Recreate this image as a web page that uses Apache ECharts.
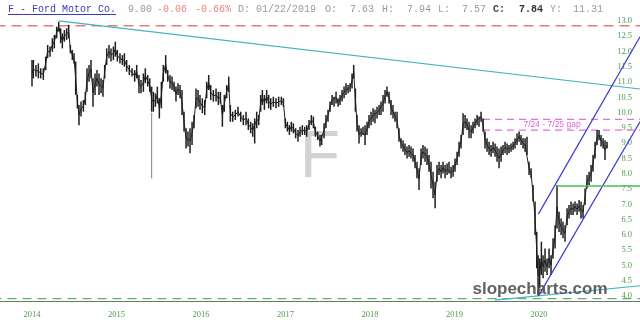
<!DOCTYPE html>
<html><head><meta charset="utf-8">
<script src="https://cdn.jsdelivr.net/npm/echarts@6/dist/echarts.min.js"></script>
<style>html,body{margin:0;padding:0;background:#fff}#c{width:640px;height:331px}</style>
</head><body><div id="c"></div>
<script>
// ---- price data (decimal year, low, high) ----
const dates=[
2014.000,2014.016,2014.047,2014.075,2014.103,2014.134,2014.162,2014.185,2014.213,2014.241,
2014.264,2014.292,2014.316,2014.339,2014.359,2014.383,2014.410,2014.434,2014.454,2014.477,
2014.497,2014.517,2014.537,2014.556,2014.580,2014.608,2014.631,2014.651,2014.675,2014.698,
2014.722,2014.746,2014.769,2014.793,2014.817,2014.840,2014.860,2014.884,2014.911,2014.935,
2014.963,2014.986,2015.010,2015.041,2015.069,2015.093,2015.120,2015.152,2015.184,2015.215,
2015.239,2015.266,2015.290,2015.318,2015.341,2015.369,2015.393,2015.416,2015.436,2015.460,
2015.483,2015.507,2015.531,2015.554,2015.582,2015.606,2015.633,2015.657,2015.681,2015.704,
2015.728,2015.752,2015.775,2015.799,2015.823,2015.846,2015.870,2015.894,2015.917,2015.941,
2015.965,2015.988,2016.016,2016.044,2016.067,2016.091,2016.115,2016.146,2016.178,2016.205,
2016.229,2016.253,2016.276,2016.304,2016.328,2016.347,2016.375,2016.406,2016.438,2016.470,
2016.501,2016.533,2016.560,2016.588,2016.612,2016.635,2016.659,2016.683,2016.706,2016.726,
2016.750,2016.777,2016.801,2016.825,2016.856,2016.888,2016.919,2016.951,2016.975,2016.998,
2017.022,2017.046,2017.069,2017.093,2017.120,2017.148,2017.172,2017.199,2017.227,2017.251,
2017.278,2017.306,2017.330,2017.353,2017.381,2017.408,
2017.428,2017.456,2017.479,2017.503,2017.527,2017.551,2017.574,2017.598,2017.622,2017.645,
2017.669,2017.693,2017.716,2017.740,2017.764,2017.787,2017.807,2017.827,2017.846,2017.870,
2017.894,2017.917,2017.941,2017.965,2017.988,2018.012,2018.036,2018.059,2018.083,2018.107,
2018.130,2018.154,2018.178,2018.201,2018.225,2018.249,2018.272,2018.296,2018.320,2018.343,
2018.367,2018.391,2018.414,2018.438,2018.462,2018.485,2018.509,2018.533,2018.556,2018.580,
2018.604,2018.627,2018.651,2018.675,2018.698,2018.722,2018.746,2018.770,2018.793,2018.817,
2018.841,2018.864,2018.888,2018.912,2018.935,2018.959,2018.983,2019.006,2019.030,2019.054,
2019.077,2019.101,2019.125,2019.148,2019.172,2019.196,2019.219,2019.243,2019.267,2019.290,
2019.314,2019.338,2019.361,2019.385,2019.409,2019.432,2019.456,2019.480,2019.503,2019.527,
2019.551,2019.574,2019.598,2019.622,2019.645,2019.669,2019.693,2019.716,2019.740,2019.764,
2019.787,2019.811,2019.835,2019.858,2019.882,2019.906,2019.929,2019.953,2019.973,2019.989,
2020.008,2020.028,2020.048,2020.071,2020.095,2020.119,2020.142,2020.166,2020.190,2020.213,
2020.237,2020.261,2020.284,2020.308,2020.332,2020.355,2020.379,2020.403,2020.426,2020.450,
2020.474,2020.497,2020.521,2020.545,2020.568,2020.592,2020.616,2020.639,2020.663,2020.687,
2020.710,2020.734,2020.758,2020.781,2020.805];
const highs=[
11.72,11.72,11.56,11.61,11.45,11.45,11.83,12.21,12.16,12.43,
12.54,12.81,12.97,12.76,12.59,12.70,12.76,12.87,12.21,12.05,
11.94,11.67,10.58,10.25,10.36,10.41,10.68,11.45,11.56,11.72,
11.12,11.28,11.39,11.28,11.12,11.07,11.56,12.10,12.21,12.10,
12.16,12.32,12.05,11.94,11.88,11.94,11.72,11.56,11.45,11.39,
11.56,11.23,11.07,11.28,11.45,11.23,11.12,10.85,10.68,10.63,
10.85,10.47,11.01,11.56,11.88,11.39,11.23,11.18,11.01,10.85,
10.96,10.90,10.74,10.03,9.49,9.38,9.49,9.70,9.92,10.79,
10.74,10.58,10.47,10.41,11.01,11.23,10.90,10.74,10.79,10.68,
10.68,10.25,10.58,10.90,11.18,10.25,10.03,10.09,10.19,10.03,
9.92,10.03,9.81,9.70,9.65,9.81,10.03,9.92,10.58,10.74,
10.58,10.74,10.58,10.47,10.52,10.47,10.52,10.52,10.47,9.81,
9.70,9.59,9.70,9.65,9.49,9.43,9.54,9.59,9.54,9.59,
9.76,9.92,9.87,9.54,9.38,9.27,
9.27,9.65,9.92,10.09,10.36,10.58,10.52,10.68,10.47,10.58,
10.74,10.85,10.96,10.90,10.96,11.28,11.56,10.79,9.92,9.59,
9.49,9.54,9.59,9.70,9.92,10.03,10.14,10.09,10.19,10.25,
10.36,10.58,10.74,10.85,10.68,10.41,10.25,10.03,10.03,9.49,
9.16,9.10,8.99,8.89,8.94,8.89,8.83,8.61,8.39,8.18,
8.83,8.94,8.89,8.83,8.61,8.39,8.07,7.74,8.29,8.39,
8.29,8.39,8.29,8.34,8.39,8.23,8.29,8.50,8.72,9.05,
9.27,9.98,9.92,9.81,9.70,9.59,9.70,9.81,9.92,9.87,
10.03,9.81,9.38,9.16,9.05,8.94,9.05,8.99,8.89,8.83,
8.89,8.94,9.05,8.99,8.94,8.99,9.05,9.16,9.32,9.38,
9.27,9.16,9.16,9.21,8.39,8.18,7.63,7.09,6.10,5.34,
5.23,5.78,5.34,5.56,5.23,5.56,5.34,5.89,6.32,7.63,
6.76,6.54,6.43,6.32,6.87,6.98,7.09,7.03,7.09,7.03,
7.14,7.09,6.98,7.52,7.96,8.07,8.29,8.61,9.05,9.43,
9.43,9.27,9.16,9.10,9.05];
const lows=[
10.85,11.12,11.18,11.12,11.12,11.07,11.39,11.78,11.83,11.99,
12.10,12.43,12.65,12.27,12.10,12.32,12.38,12.43,11.94,11.72,
11.61,10.58,10.14,9.59,9.87,10.03,10.25,10.68,11.01,11.12,
10.19,10.58,10.85,10.58,10.63,10.52,11.12,11.56,11.78,11.67,
11.72,11.83,11.67,11.61,11.56,11.50,11.34,11.23,11.18,11.01,
11.12,10.63,10.63,10.68,10.96,10.85,10.68,10.03,10.03,10.19,
10.30,9.81,10.14,11.01,11.28,11.01,10.79,10.74,10.68,10.36,
10.58,10.47,9.92,9.38,8.83,8.89,8.67,8.94,9.49,10.14,
10.19,10.09,9.98,9.92,10.47,10.74,10.41,10.36,10.36,10.25,
10.30,9.54,10.03,10.47,10.68,9.70,9.70,9.76,9.87,9.70,
9.59,9.59,9.43,9.32,9.21,8.99,9.49,9.59,10.03,10.25,
10.09,10.30,10.14,10.09,10.19,10.14,10.19,10.25,10.19,9.49,
9.38,9.27,9.38,9.32,9.16,9.05,9.21,9.27,9.27,9.21,
9.43,9.59,9.49,9.21,9.10,8.89,
8.94,9.16,9.49,9.70,10.03,10.25,10.19,10.30,10.19,10.25,
10.36,10.47,10.58,10.63,10.68,10.79,11.12,10.03,9.38,8.99,
9.21,9.27,8.94,9.27,9.49,9.59,9.70,9.65,9.81,9.92,
9.92,10.03,10.30,10.52,10.30,9.92,9.81,9.70,9.49,9.05,
8.83,8.72,8.61,8.50,8.56,8.50,8.39,8.18,7.85,7.47,
8.29,8.50,8.39,8.29,8.07,7.52,7.20,6.87,7.74,7.96,
7.85,8.01,7.85,7.96,8.01,7.85,7.90,8.07,8.29,8.56,
8.83,9.27,9.49,9.43,9.16,9.16,9.32,9.49,9.59,9.54,
9.70,9.38,8.83,8.72,8.61,8.56,8.67,8.56,8.39,8.18,
8.39,8.61,8.67,8.61,8.67,8.72,8.78,8.83,8.94,9.05,
8.94,8.83,8.72,8.61,7.96,7.85,7.09,6.00,4.91,4.00,
4.25,4.69,4.58,4.80,4.69,4.91,4.69,5.23,5.56,6.21,
6.10,6.00,5.89,5.78,6.32,6.54,6.65,6.65,6.76,6.65,
6.76,6.54,6.54,6.98,7.52,7.63,7.74,8.07,8.50,8.94,
9.10,8.89,8.83,8.45,8.83];
// single bad print (flash wick)
const wickDates=[2015.416];
const wickLows=[7.85];
const wickHighs=[10.0];

// ---- axes ----
const yearLabels=['2014','2015','2016','2017','2018','2019','2020'];
const xMin=2013, xMax=2021.195, yMin=3.84, yMax=13.29;

// ---- annotations (values) ----
const redLevel=12.84;
const greenDashLevel=3.92;
const gapLevels=[9.78,9.43];
const gapStart=2019.337;
const gapText='7/24 - 7/25 gap';
const gapTextAt=[2020.154,9.60];
const breakoutLevel=7.60, breakoutStart=2020.209;
const downTrend=[[2014.316,13.00],[2021.195,10.77]];
const riseTrend=[[2019.479,3.87],[2021.195,4.34]];
const channelUpper=[[2019.992,6.68],[2021.195,12.48]];
const channelLower=[[2019.992,4.00],[2021.195,9.70]];

// ---- header ----
const header=[
 {t:'F - Ford Motor Co.',x:8,c:'#3b3bb5',w:'normal'},
 {t:'9.00',x:128,c:'#9a9a9a',w:'normal'},
 {t:'-0.06',x:157,c:'#ef8080',w:'normal'},
 {t:'-0.66%',x:195,c:'#ef8080',w:'normal'},
 {t:'D: 01/22/2019',x:238,c:'#9a9a9a',w:'normal'},
 {t:'O:',x:325,c:'#9a9a9a',w:'normal'},
 {t:'7.63',x:350,c:'#9a9a9a',w:'normal'},
 {t:'H:',x:382,c:'#9a9a9a',w:'normal'},
 {t:'7.94',x:407,c:'#9a9a9a',w:'normal'},
 {t:'L:',x:438,c:'#9a9a9a',w:'normal'},
 {t:'7.57',x:462,c:'#9a9a9a',w:'normal'},
 {t:'C:',x:493,c:'#444',w:'bold'},
 {t:'7.84',x:519,c:'#333',w:'bold'},
 {t:'Y:',x:550,c:'#9a9a9a',w:'normal'},
 {t:'11.31',x:573,c:'#9a9a9a',w:'normal'}
];

const priceData=dates.map((d,i)=>[d,lows[i],highs[i]]);
const midData=dates.map((d,i)=>[d,(lows[i]+highs[i])/2]);
const wickData=wickDates.map((d,i)=>[d,wickLows[i],wickHighs[i]]);

function stick(color,width){
  return function(params,api){
    const x=api.value(0),lo=api.value(1),hi=api.value(2);
    const a=api.coord([x,lo]),b=api.coord([x,hi]);
    return {type:'line',shape:{x1:a[0],y1:a[1],x2:b[0],y2:b[1]},style:{stroke:color,lineWidth:width}};
  };
}
function seg(data,color,width,type,z){
  return {type:'line',data:data,symbol:'none',silent:true,animation:false,z:z||3,
    lineStyle:{color:color,width:width,type:type||'solid'}};
}

const chart=echarts.init(document.getElementById('c'),null,{renderer:'canvas'});
const labelFont='"Liberation Serif", "DejaVu Serif", serif';
chart.setOption({
  animation:false,
  backgroundColor:'#ffffff',
  grid:{left:-52.5,right:0,top:12,bottom:30,containLabel:false,outerBoundsMode:'none'},
  xAxis:{type:'value',min:xMin,max:xMax,interval:1,
    axisLine:{show:true,onZero:false,lineStyle:{color:'#6f6f6f',width:1}},
    axisTick:{show:false},splitLine:{show:false},
    axisLabel:{margin:9,color:'#4e9a4e',fontSize:8.5,fontFamily:labelFont,
      formatter:function(v){const r=Math.round(v);return (Math.abs(v-r)<1e-6&&yearLabels.indexOf(String(r))>=0)?String(r):'';}}},
  yAxis:{type:'value',position:'right',min:yMin,max:yMax,minInterval:0.5,maxInterval:0.5,splitNumber:19,
    axisLine:{show:false},axisTick:{show:false},splitLine:{show:false},
    axisLabel:{inside:true,margin:8,color:'#4e9a4e',fontSize:8.5,fontFamily:labelFont,
      formatter:function(v){return Math.abs(v*2-Math.round(v*2))<1e-6?v.toFixed(1):'';}}},
  graphic:[
    {type:'text',x:320,y:159,z:0,silent:true,style:{text:'F',fill:'#d2d2d2',font:'66px "Liberation Sans", Arial, sans-serif',align:'center',verticalAlign:'middle'}},
    {type:'text',x:540,y:289,z:50,silent:true,style:{text:'slopecharts.com',fill:'rgba(80,80,80,0.9)',font:'bold 17px "Liberation Sans", Arial, sans-serif',align:'center',verticalAlign:'middle'}},
    {type:'line',z:50,silent:true,shape:{x1:8,y1:14.5,x2:116,y2:14.5},style:{stroke:'#3b3bb5',lineWidth:1}}
  ].concat(header.map(h=>({type:'text',x:h.x,y:9,z:50,silent:true,
    style:{text:h.t,fill:h.c,font:h.w+' 10px "Liberation Mono", "DejaVu Sans Mono", monospace',align:'left',verticalAlign:'middle'}}))),
  series:[
    seg([[xMin,redLevel],[xMax,redLevel]],'#f07a7a',1.5,[10,6],2),
    seg([[xMin,greenDashLevel],[xMax,greenDashLevel]],'#5cb85c',1.2,[9,6],2),
    seg([[gapStart,gapLevels[0]],[xMax,gapLevels[0]]],'#e070e0',1.2,[7,5],2),
    seg([[gapStart,gapLevels[1]],[xMax,gapLevels[1]]],'#e070e0',1.2,[7,5],2),
    {type:'line',data:midData,symbol:'none',silent:true,z:4,lineStyle:{color:'#222',width:1}},
    {type:'custom',data:priceData,renderItem:stick('#1e1e1e',1.5),silent:true,z:5,clip:true},
    {type:'custom',data:wickData,renderItem:stick('#808080',1),silent:true,z:5,clip:true},
    seg(downTrend,'#3fb3bd',1.1,'solid',6),
    seg(riseTrend,'#3fb3bd',1.1,'solid',6),
    seg(channelUpper,'#3b3bd0',1.2,'solid',6),
    seg(channelLower,'#3b3bd0',1.2,'solid',6),
    seg([[breakoutStart,breakoutLevel],[xMax,breakoutLevel]],'#4cbf4c',1.3,'solid',6),
    {type:'scatter',data:[gapTextAt],symbolSize:1,silent:true,z:7,itemStyle:{color:'rgba(0,0,0,0)'},
      label:{show:true,position:'inside',formatter:gapText,color:'#d040d0',fontSize:8.5,fontFamily:'"Liberation Sans", Arial, sans-serif'}}
  ]
});
</script>
</body></html>
